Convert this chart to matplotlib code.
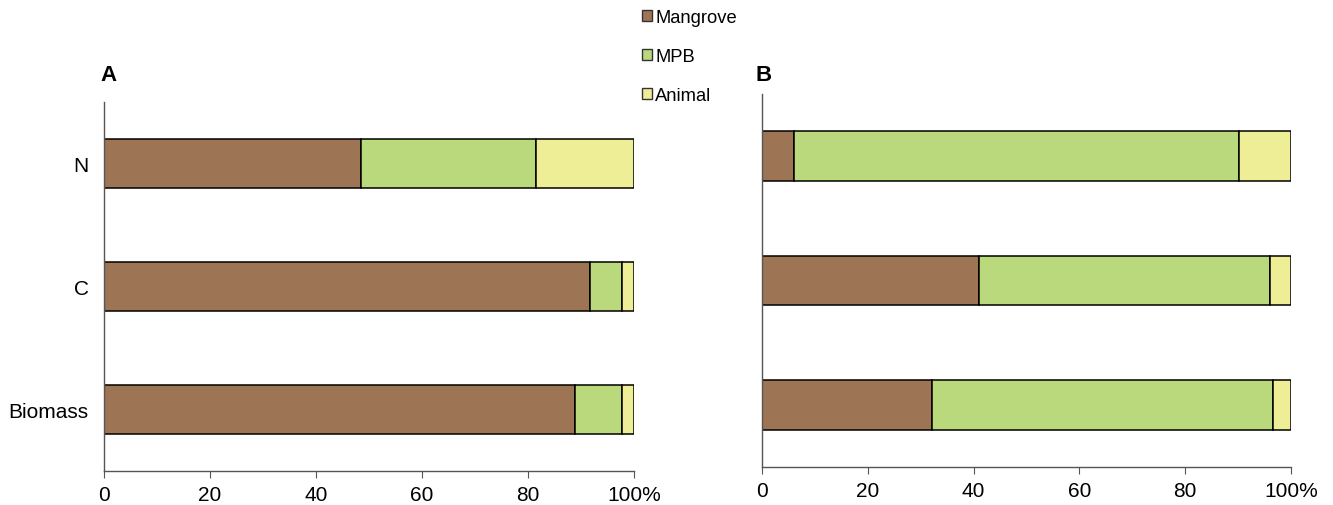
import matplotlib.pyplot as plt
from matplotlib.patches import Patch

plt.rcParams["font.family"] = ["Liberation Sans", "DejaVu Sans"]

# ===== data =====
categories = ["Biomass", "C", "N"]
series_names = ["Mangrove", "MPB", "Animal"]
colors = ["#9D7454", "#BAD97C", "#EEEE96"]

# panel A (bottom -> top: Biomass, C, N)
a_mangrove = [88.9, 91.7, 48.5]
a_mpb = [8.8, 6.0, 33.0]
a_animal = [2.3, 2.3, 18.5]

# panel B
b_mangrove = [32.1, 41.0, 6.0]
b_mpb = [64.5, 55.0, 84.2]
b_animal = [3.4, 4.0, 9.8]

xticks = [0, 20, 40, 60, 80, 100]
xticklabels = ["0", "20", "40", "60", "80", "100%"]

fig = plt.figure(figsize=(13.33, 5.06), dpi=100)
axA = fig.add_axes([0.078, 0.0672, 0.3976, 0.7292])
axB = fig.add_axes([0.5716, 0.075, 0.3969, 0.7373])


def draw_panel(ax, parts, show_labels):
    left = [0] * len(categories)
    for vals, col in zip(parts, colors):
        ax.barh(range(len(categories)), vals, left=left, height=0.4,
                color=col, edgecolor="black", linewidth=1.1)
        left = [l + v for l, v in zip(left, vals)]
    ax.set_xlim(0, 100)
    ax.set_ylim(-0.5, 2.5)
    ax.set_xticks(xticks)
    ax.set_xticklabels(xticklabels, fontsize=15)
    ax.set_yticks(range(len(categories)))
    if show_labels:
        ax.set_yticklabels(categories, fontsize=15)
    else:
        ax.set_yticklabels([])
    ax.tick_params(axis="y", length=0, pad=11)
    ax.tick_params(axis="x", direction="out", length=5, color="#555555", pad=5)
    for s in ["top", "right"]:
        ax.spines[s].set_visible(False)
    for s in ["left", "bottom"]:
        ax.spines[s].set_color("#555555")
        ax.spines[s].set_linewidth(1.0)


draw_panel(axA, [a_mangrove, a_mpb, a_animal], True)
draw_panel(axB, [b_mangrove, b_mpb, b_animal], False)

fig.text(0.075, 0.84, "A", fontsize=16, fontweight="bold")
fig.text(0.567, 0.84, "B", fontsize=16, fontweight="bold")

handles = [Patch(facecolor=c, edgecolor="#333333", linewidth=1.0) for c in colors]
fig.legend(handles, series_names, loc="upper left", bbox_to_anchor=(0.469, 1.012),
           frameon=False, fontsize=13.2, handlelength=0.55, handleheight=0.55,
           handletextpad=0.2, labelspacing=1.2)

fig.savefig("out.png", dpi=100)
